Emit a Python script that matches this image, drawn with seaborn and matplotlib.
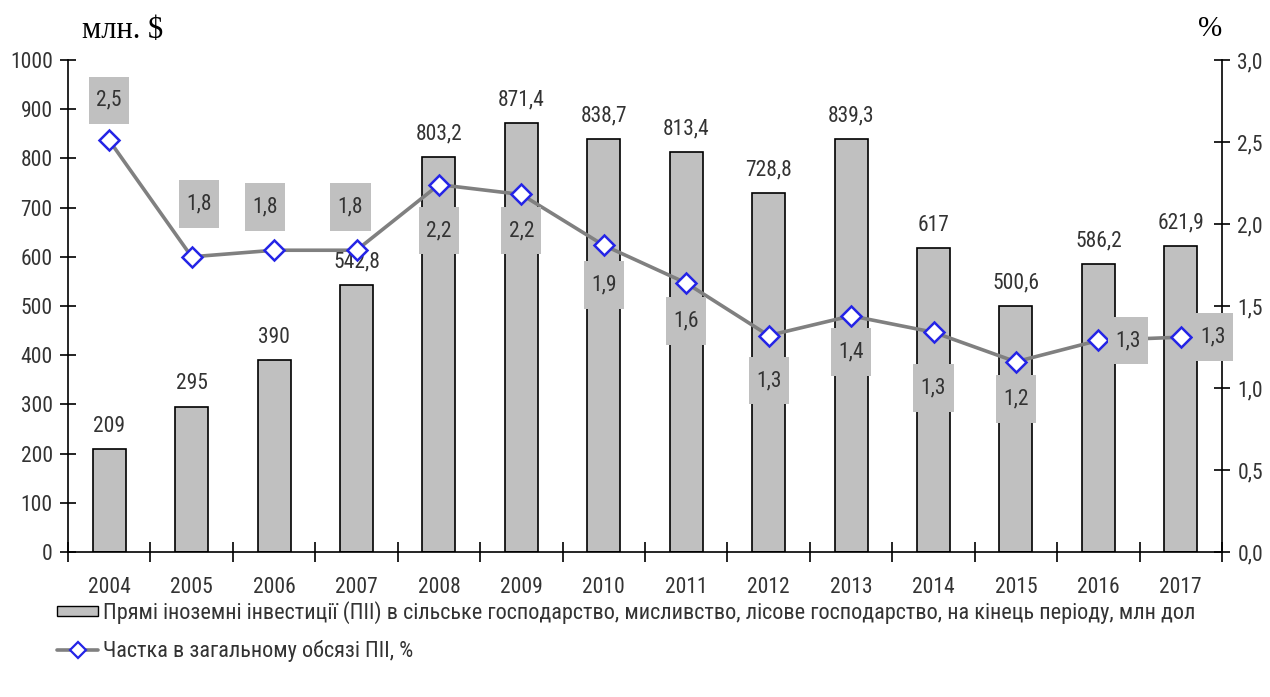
import numpy as np
import matplotlib
matplotlib.use("Agg")
import matplotlib.pyplot as plt
from matplotlib.patches import Patch
from matplotlib.lines import Line2D
from matplotlib.path import Path
from matplotlib.ticker import MultipleLocator, FixedLocator, FuncFormatter
import seaborn as sns

years = ["2004", "2005", "2006", "2007", "2008", "2009", "2010",
         "2011", "2012", "2013", "2014", "2015", "2016", "2017"]
fdi_agri = [209, 295, 390, 542.8, 803.2, 871.4, 838.7,
            813.4, 728.8, 839.3, 617, 500.6, 586.2, 621.9]
share_pct = [2.51, 1.80, 1.84, 1.84, 2.24, 2.18, 1.87,
             1.64, 1.32, 1.44, 1.34, 1.16, 1.29, 1.31]

bar_label = ("Прямі іноземні інвестиції (ПІІ) в сільське господарство, мисливство, "
             "лісове господарство, на кінець періоду, млн дол")
line_label = "Частка в загальному обсязі ПІІ, %"

sns.set_theme(style="white")
plt.rcParams["font.family"] = ["Roboto Condensed", "PT Sans Narrow", "DejaVu Sans"]

TXT = "#333333"
BAR = "#c0c0c0"
LINE = "#808080"
MARK = "#2424e6"
FS = 15.5

fig = plt.figure(figsize=(12.7, 6.97), dpi=100)
ax = fig.add_axes([68 / 1270, 145 / 697, (1222 - 68) / 1270, (552 - 60) / 697])

x = np.arange(len(years))
sns.barplot(x=x, y=fdi_agri, ax=ax, color=BAR, edgecolor="black",
            linewidth=1.2, width=0.4, saturation=1)
ax.set_xlim(-0.5, len(years) - 0.5)
ax.set_ylim(0, 1000)


def fmt_num(v):
    if float(v).is_integer() and v > 10:
        return str(int(v))
    return f"{v:.1f}".replace(".", ",")


def tall_box(x0, y0, width, height, mutation_size):
    # rectangle with more padding vertically than horizontally
    px, py = 0.34 * mutation_size, 0.62 * mutation_size
    x0, y0 = x0 - px, y0 - py
    x1, y1 = x0 + width + 2 * px, y0 + height + 2 * py
    return Path([(x0, y0), (x1, y0), (x1, y1), (x0, y1), (x0, y0)], closed=True)


for xi, v in zip(x, fdi_agri):
    ax.annotate(fmt_num(v), (xi, v), xytext=(0, 9), textcoords="offset points",
                ha="center", va="bottom", fontsize=FS, color=TXT)

# axes styling
for side in ["top", "right"]:
    ax.spines[side].set_visible(False)
for side in ["left", "bottom"]:
    ax.spines[side].set_color("black")
    ax.spines[side].set_linewidth(1.2)
ax.yaxis.set_major_locator(MultipleLocator(100))
ax.tick_params(axis="y", direction="inout", length=12, width=1.2,
               color="black", labelsize=FS, labelcolor=TXT, pad=5, left=True)
ax.set_xticks(x)
ax.set_xticklabels(years)
ax.tick_params(axis="x", which="major", length=0, labelsize=FS,
               labelcolor=TXT, pad=18)
ax.xaxis.set_minor_locator(FixedLocator(np.arange(-0.5, len(years), 1.0)))
ax.tick_params(axis="x", which="minor", direction="inout", length=14,
               width=1.2, color="black", bottom=True)
ax.set_xlabel("")
ax.set_ylabel("")

# secondary axis with share line
ax2 = ax.twinx()
sns.lineplot(x=x, y=share_pct, ax=ax2, color=LINE, linewidth=2.6,
             marker="D", markersize=10, markerfacecolor="white",
             markeredgecolor=MARK, markeredgewidth=1.8, zorder=5)
ax2.set_ylim(0, 3.0)
ax2.set_xlim(-0.5, len(years) - 0.5)
ax2.yaxis.set_major_locator(MultipleLocator(0.5))
ax2.yaxis.set_major_formatter(FuncFormatter(lambda v, p: f"{v:.1f}".replace(".", ",")))
for side in ["top", "left", "bottom"]:
    ax2.spines[side].set_visible(False)
ax2.spines["right"].set_color("black")
ax2.spines["right"].set_linewidth(1.2)
ax2.tick_params(axis="y", direction="inout", length=12, width=1.2, color="black",
                labelsize=FS, labelcolor=TXT, pad=5, right=True)
ax2.set_ylabel("")
ax2.grid(False)
ax.grid(False)

# value labels for the share line (offsets in pixels)
label_offsets = [(0, 40), (7, 53), (-9, 43), (-6, 43), (0, -46), (0, -36), (0, -40),
                 (0, -38), (0, -45), (0, -36), (0, -56), (0, -37), (30, 0), (32, 0)]
for xi, v, (dx, dy) in zip(x, share_pct, label_offsets):
    ax2.annotate(fmt_num(v), (xi, v), xytext=(dx * 0.72, dy * 0.72),
                 textcoords="offset points", ha="center", va="center",
                 fontsize=FS, color=TXT, zorder=6,
                 bbox=dict(boxstyle=tall_box, facecolor=BAR, edgecolor="none"))

# unit captions
fig.text(82 / 1270, 1 - 31 / 697, "млн. $", family="Liberation Serif",
         fontsize=22, color="black", ha="left", va="center")
fig.text(1210 / 1270, 1 - 29 / 697, "%", family="Liberation Serif",
         fontsize=21, color="black", ha="center", va="center")

handles = [
    Patch(facecolor=BAR, edgecolor="black", linewidth=1.0),
    Line2D([0], [0], color=LINE, linewidth=2.6, marker="D", markersize=8,
           markerfacecolor="white", markeredgecolor=MARK, markeredgewidth=1.6),
]
leg = fig.legend(handles, [bar_label, line_label], loc="upper left",
                 bbox_to_anchor=(46 / 1270, 1 - 590 / 697), frameon=False,
                 fontsize=16, labelcolor=TXT, handlelength=1.85,
                 handleheight=0.35, handletextpad=0.2, labelspacing=0.7,
                 borderpad=0)

fig.savefig("out.png", dpi=100, facecolor="white")
